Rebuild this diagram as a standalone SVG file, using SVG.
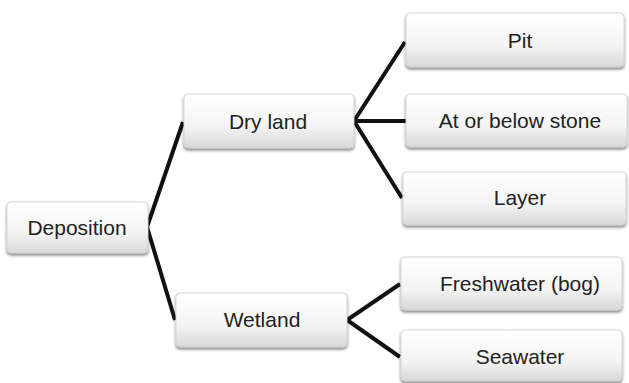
<svg xmlns="http://www.w3.org/2000/svg" width="629" height="383" viewBox="0 0 629 383">
<defs>
<linearGradient id="g" x1="0" y1="0" x2="0" y2="1">
<stop offset="0" stop-color="#ffffff"/>
<stop offset="0.6" stop-color="#f4f4f4"/>
<stop offset="1" stop-color="#d8d8d8"/>
</linearGradient>
<filter id="sh" x="-10%" y="-20%" width="120%" height="150%">
<feDropShadow dx="0" dy="2" stdDeviation="1.5" flood-color="#000" flood-opacity="0.5"/>
</filter>
</defs>
<style>
.box{fill:url(#g);stroke:#cfcfcf;stroke-width:0.8;filter:url(#sh)}
.t{font-family:"Liberation Sans",Arial,sans-serif;font-size:21px;fill:#222;text-anchor:middle;dominant-baseline:central}
.c{stroke:#111;stroke-width:4;fill:none;stroke-linejoin:miter}
</style>
<rect width="629" height="383" fill="#fff"/>
<g id="connectors">
<polyline class="c" points="183,122 147,227 175,320"/>
<polyline class="c" points="405,42 354,121 402,198"/>
<line class="c" x1="354" y1="121" x2="406" y2="121"/>
<polyline class="c" points="400,284 347,320 400,357"/>
</g>
<g id="deposition"><rect class="box" x="7" y="202" width="141" height="51" rx="4"/><text class="t" x="77" y="227">Deposition</text></g>
<g id="dryland"><rect class="box" x="184" y="94" width="170" height="54" rx="4"/><text class="t" x="268" y="121">Dry land</text></g>
<g id="wetland"><rect class="box" x="176" y="293" width="171" height="54" rx="4"/><text class="t" x="262" y="319">Wetland</text></g>
<g id="pit"><rect class="box" x="406" y="13" width="218" height="54" rx="4"/><text class="t" x="520" y="40">Pit</text></g>
<g id="stone"><rect class="box" x="406" y="94" width="221" height="53" rx="4"/><text class="t" x="520" y="120">At or below stone</text></g>
<g id="layer"><rect class="box" x="403" y="172" width="223" height="53" rx="4"/><text class="t" x="520" y="197">Layer</text></g>
<g id="freshwater"><rect class="box" x="401" y="257" width="221" height="53" rx="4"/><text class="t" x="520" y="283">Freshwater (bog)</text></g>
<g id="seawater"><rect class="box" x="401" y="330" width="221" height="51" rx="4"/><text class="t" x="520" y="356">Seawater</text></g>
</svg>
